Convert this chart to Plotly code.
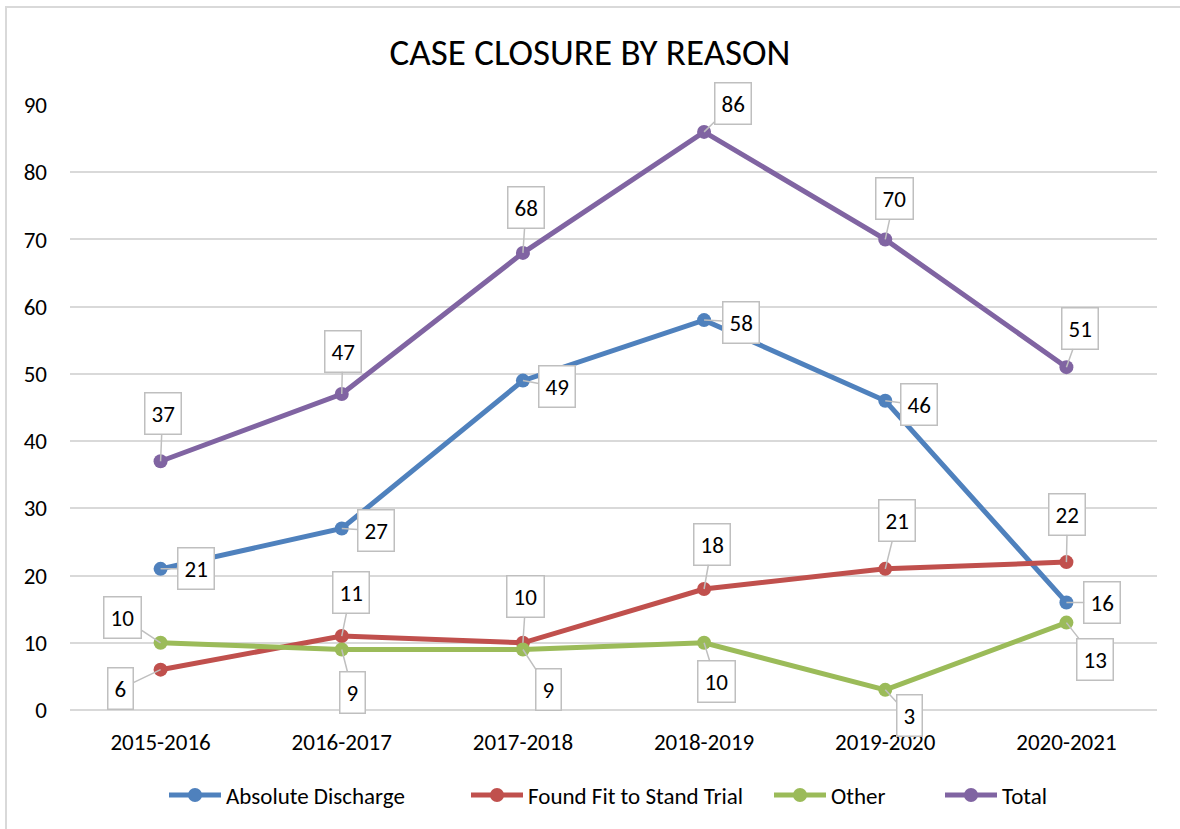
import plotly.graph_objects as go

years = ["2015-2016", "2016-2017", "2017-2018", "2018-2019", "2019-2020", "2020-2021"]
absolute_discharge = [21, 27, 49, 58, 46, 16]
found_fit = [6, 11, 10, 18, 21, 22]
other = [10, 9, 9, 10, 3, 13]
total = [37, 47, 68, 86, 70, 51]

series = [
    ("Absolute Discharge", absolute_discharge, "#4F81BD"),
    ("Found Fit to Stand Trial", found_fit, "#C0504D"),
    ("Other", other, "#9BBB59"),
    ("Total", total, "#8064A2"),
]

# label box offsets (pixels, box centre relative to point)
label_offsets = {
    "Absolute Discharge": [(35, 0), (34, 2), (34, 6), (37, 2), (34, 4), (36, 0)],
    "Found Fit to Stand Trial": [(-40, 19), (9, -44), (3, -46), (8, -45), (12, -48), (1, -48)],
    "Other": [(-38, -25), (11, 43), (26, 40), (12, 39), (24, 26), (29, 37)],
    "Total": [(2, -48), (1, -43), (3, -45), (29, -28), (9, -41), (14, -39)],
}
# legend entry left edges (pixels)
legend_left = [168, 470, 773, 944]

FONT = "Carlito, Lato, Liberation Sans, sans-serif"

# Plot area in pixels
L, R, T, B = 70, 1157, 105, 710
W, H = R - L, B - T

def px_x(p):
    return (p - L) / W

def px_y(p):
    return (B - p) / H

fig = go.Figure()
legend_names = ["legend", "legend2", "legend3", "legend4"]
for k, (name, vals, color) in enumerate(series):
    fig.add_trace(go.Scatter(
        x=years, y=vals, name=name, mode="lines+markers",
        line=dict(color=color, width=5),
        marker=dict(color=color, size=14),
        cliponaxis=False, legend=legend_names[k],
    ))

annotations = []
for name, vals, color in series:
    for i, (yr, v) in enumerate(zip(years, vals)):
        dx, dy = label_offsets[name][i]
        annotations.append(dict(
            x=yr, y=v, xref="x", yref="y", text=str(v),
            showarrow=True, arrowhead=0, arrowwidth=1.5, arrowcolor="#BFBFBF",
            ax=dx, ay=dy, standoff=0, startstandoff=0,
            bgcolor="white", bordercolor="#BFBFBF", borderwidth=1.5, borderpad=6,
            font=dict(family=FONT, size=23, color="black"),
        ))

shapes = [dict(type="rect", xref="paper", yref="paper",
               x0=px_x(6), x1=px_x(1200), y0=px_y(7), y1=px_y(850),
               line=dict(color="#D9D9D9", width=2), fillcolor="rgba(0,0,0,0)", layer="below")]

legend_layouts = {}
for k, ln in enumerate(legend_names):
    legend_layouts[ln] = dict(
        orientation="h", x=px_x(legend_left[k] - 4), xanchor="left",
        y=px_y(795), yanchor="middle", bgcolor="rgba(0,0,0,0)",
        itemwidth=52,
        font=dict(family=FONT, size=23, color="black"),
    )

fig.update_layout(
    width=1180, height=829,
    margin=dict(l=L, r=1180 - R, t=T, b=829 - B, autoexpand=False),
    paper_bgcolor="white", plot_bgcolor="white",
    title=dict(text="CASE CLOSURE BY REASON", x=0.5, xref="container", xanchor="center",
               y=1 - 52 / 829, yref="container", yanchor="middle",
               font=dict(family=FONT, size=37, color="black")),
    font=dict(family=FONT, size=23, color="black"),
    showlegend=True,
    annotations=annotations,
    shapes=shapes,
    **legend_layouts,
)
fig.update_xaxes(type="category", range=[-0.5, 5.5], showgrid=False, showline=False,
                 ticks="", ticklabelstandoff=16, tickangle=0, automargin=False,
                 tickfont=dict(family=FONT, size=23, color="black"))
fig.update_yaxes(range=[0, 90], dtick=10, showgrid=True, gridcolor="#D9D9D9", gridwidth=1.5,
                 zeroline=True, zerolinecolor="#D9D9D9", zerolinewidth=1.5,
                 showline=False, ticks="", ticklabelstandoff=22, automargin=False,
                 tickfont=dict(family=FONT, size=23, color="black"))

fig.write_html("out.html")
